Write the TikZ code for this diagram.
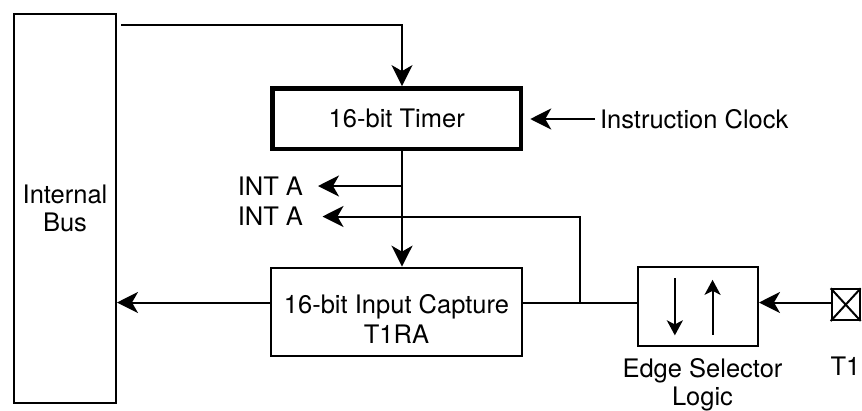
\documentclass[tikz,border=0pt]{standalone}
\usepackage{fontspec}
\setmainfont{TeX Gyre Heros}
\usetikzlibrary{arrows.meta,calc}
\begin{document}
\begin{tikzpicture}[x=1pt,y=-1pt,
  line width=2pt,
  font=\fontsize{25.5}{28}\selectfont,
  box/.style={draw, rectangle, inner sep=0pt},
  txt/.style={inner sep=0pt, align=center},
  arr/.style={-{Stealth[length=21pt,width=21pt,inset=6pt]}},
  sarr/.style={-{Stealth[length=15pt,width=16pt,inset=4pt]}},
]
\useasboundingbox (0,0) rectangle (862,410);

% blocks
\node[box, minimum width=102pt, minimum height=389.3pt, align=center] (bus) at (65,208.4) {Internal\\Bus};
\node[box, line width=4.5pt, minimum width=248.5pt, minimum height=60.5pt] (timer) at (396.75,118.6) {16-bit Timer};
\node[box, minimum width=251pt, minimum height=88.3pt] (cap) at (396.5,311.8) {};
\node[txt] (captxt) at (396.5,319) {16-bit Input Capture\\[2pt]T1RA};
\node[box, minimum width=120.3pt, minimum height=78.7pt] (edge) at (697.85,306.35) {};
\node[txt] (edgelbl) at (702.5,385) {Edge Selector\\Logic};
\node[box, minimum width=28pt, minimum height=30.7pt] (pin) at (845.7,304.65) {};
\node[txt] (t1) at (845.5,366) {T1};
\node[txt, anchor=west] (clk) at (599,119) {Instruction Clock};
\node[txt, anchor=east] (int1) at (304,186) {INT A};
\node[txt, anchor=east] (int2) at (304,216.5) {INT A};

% helper coordinates
\coordinate (tx) at (402,0);
\coordinate (ytop) at (0,25);
\coordinate (ly) at (0,302.5);
\coordinate (jx) at (579.5,302.5);

% connectors
\draw[arr, shorten <=4pt] (bus.east |- ytop) -| (tx |- timer.north);
\draw[arr] (tx |- timer.south) -- (tx |- cap.north);
\draw[arr, shorten >=14pt] (tx |- int1.east) -- (int1.east);
\draw[arr, shorten >=18.5pt] (jx) |- (int2.east);
\draw[arr] (cap.west |- ly) -- (bus.east |- ly);
\draw (cap.east |- ly) -- (edge.west |- ly);
\draw[arr] (pin.west |- ly) -- (edge.east |- ly);
\draw[arr, shorten <=4pt, shorten >=7pt] (clk.west) -- (timer.east |- clk.west);

% edge selector symbols
\draw[sarr] ($(edge.center)+(-23,-28)$) -- ++(0,57);
\draw[sarr] ($(edge.center)+(14.7,28.5)$) -- ++(0,-55);

% pin symbol
\draw (pin.north west) -- (pin.south east) (pin.north east) -- (pin.south west);
\end{tikzpicture}
\end{document}
